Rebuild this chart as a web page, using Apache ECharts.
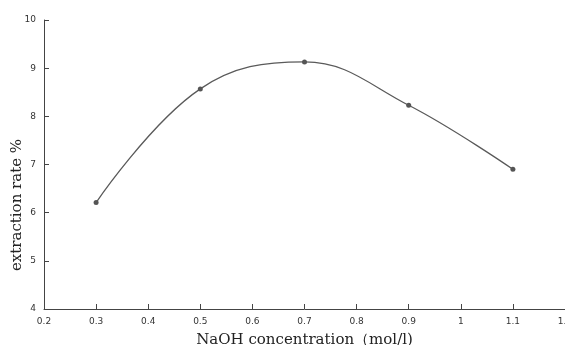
<!DOCTYPE html>
<html><head><meta charset="utf-8">
<script src="https://cdn.jsdelivr.net/npm/echarts@6/dist/echarts.min.js"></script>
<style>html,body{margin:0;padding:0;background:#fff}#c{width:565px;height:345px}</style>
</head><body><div id="c"></div>
<script>
const xValues = [0.3, 0.5, 0.7, 0.9, 1.1];
const yValues = [6.21, 8.57, 9.13, 8.23, 6.90];
const xAxisTitle = 'NaOH concentration（mol/l)';
const yAxisTitle = 'extraction rate %';

const chart = echarts.init(document.getElementById('c'), null, {renderer: 'canvas'});
chart.setOption({
  animation: false,
  backgroundColor: '#fff',
  grid: {left: 44, right: 0, top: 20, bottom: 36, containLabel: false, outerBoundsMode: 'none'},
  xAxis: {
    type: 'value', min: 0.2, max: 1.2, interval: 0.1,
    name: xAxisTitle, nameLocation: 'middle', nameGap: 24, nameMoveOverlap: false,
    nameTextStyle: {fontFamily: 'DejaVu Serif', fontSize: 15, color: '#222'},
    axisLine: {show: true, lineStyle: {color: '#444', width: 1}},
    axisTick: {show: true, inside: true, length: 5, lineStyle: {color: '#444'}},
    axisLabel: {fontSize: 9, color: '#333', margin: 8, fontFamily: 'DejaVu Sans',
      formatter: v => String(Math.round(v * 10) / 10)},
    splitLine: {show: false}
  },
  yAxis: {
    type: 'value', min: 4, max: 10, interval: 1,
    name: yAxisTitle, nameLocation: 'middle', nameGap: 19, nameRotate: 90, nameMoveOverlap: false,
    nameTextStyle: {fontFamily: 'DejaVu Serif', fontSize: 15, color: '#222', padding: [0, 81, 0, 0]},
    axisLine: {show: true, lineStyle: {color: '#444', width: 1}},
    axisTick: {show: true, inside: true, length: 5, lineStyle: {color: '#444'}},
    axisLabel: {fontSize: 9, color: '#333', margin: 8, fontFamily: 'DejaVu Sans'},
    splitLine: {show: false}
  },
  series: [{
    type: 'line',
    data: xValues.map((x, i) => [x, yValues[i]]),
    smooth: 0.4,
    symbol: 'circle', symbolSize: 5,
    itemStyle: {color: '#555'},
    lineStyle: {color: '#5a5a5a', width: 1.3}
  }]
});
</script></body></html>
